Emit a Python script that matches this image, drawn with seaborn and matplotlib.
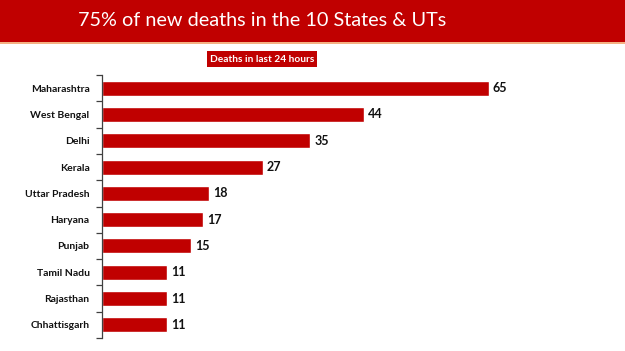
import matplotlib
matplotlib.use("Agg")
import matplotlib.pyplot as plt
import seaborn as sns
import pandas as pd
import numpy as np
from matplotlib.patches import Rectangle
from matplotlib.ticker import FixedLocator

states = ["Maharashtra", "West Bengal", "Delhi", "Kerala", "Uttar Pradesh",
          "Haryana", "Punjab", "Tamil Nadu", "Rajasthan", "Chhattisgarh"]
deaths = [65, 44, 35, 27, 18, 17, 15, 11, 11, 11]
title = "75% of new deaths in the 10 States & UTs"
subtitle = "Deaths in last 24 hours"

RED = "#C00000"
sns.set_theme(style="white")
plt.rcParams['font.family'] = ['Lato', 'DejaVu Sans']

df = pd.DataFrame({"state": states, "deaths": deaths})

W, H = 625, 351
fig = plt.figure(figsize=(W / 100, H / 100), dpi=100)

# header band
fig.patches.append(Rectangle((0, 1 - 42 / H), 1, 42 / H, transform=fig.transFigure,
                             facecolor=RED, edgecolor="none", zorder=0))
fig.patches.append(Rectangle((0, 1 - 43.5 / H), 1, 1.5 / H, transform=fig.transFigure,
                             facecolor="#F4B183", edgecolor="none", zorder=0))
fig.text(262 / W, 1 - 20 / H, title, ha="center", va="center", color="white",
         fontsize=14.3, family=['Lato', 'DejaVu Sans'])
fig.text(262 / W, 1 - 59 / H, subtitle, ha="center", va="center", color="white",
         fontsize=7.3, fontweight="bold",
         bbox=dict(boxstyle="square,pad=0.3", facecolor=RED, edgecolor="none"))

left, right = 102 / W, 600 / W
top, bottom = 1 - 75 / H, 1 - 338 / H
ax = fig.add_axes([left, bottom, right - left, top - bottom])
sns.barplot(data=df, y="state", x="deaths", orient="h", color=RED, width=0.57,
            saturation=1, ax=ax)
ax.set_xlim(0, (600 - 102) / 5.95)
ax.set_ylim(9.5, -0.5)
ax.set_xlabel("")
ax.set_ylabel("")
ax.set_xticks([])
for s in ["top", "right", "bottom"]:
    ax.spines[s].set_visible(False)
ax.spines["left"].set_color("#404040")
ax.spines["left"].set_linewidth(0.9)
ax.tick_params(axis="y", which="major", length=0, pad=9, labelsize=7.5)
ax.yaxis.set_minor_locator(FixedLocator(np.arange(-0.5, 10, 1)))
ax.tick_params(axis="y", which="minor", length=4, width=0.9, color="#404040", left=True)
for lbl in ax.get_yticklabels():
    lbl.set_fontweight("bold")
    lbl.set_color("#111111")

for i, v in enumerate(deaths):
    ax.text(v + 0.7, i, str(v), va="center", ha="left", fontsize=9,
            fontweight="bold", color="#111111")

fig.savefig("out.png", dpi=100)
